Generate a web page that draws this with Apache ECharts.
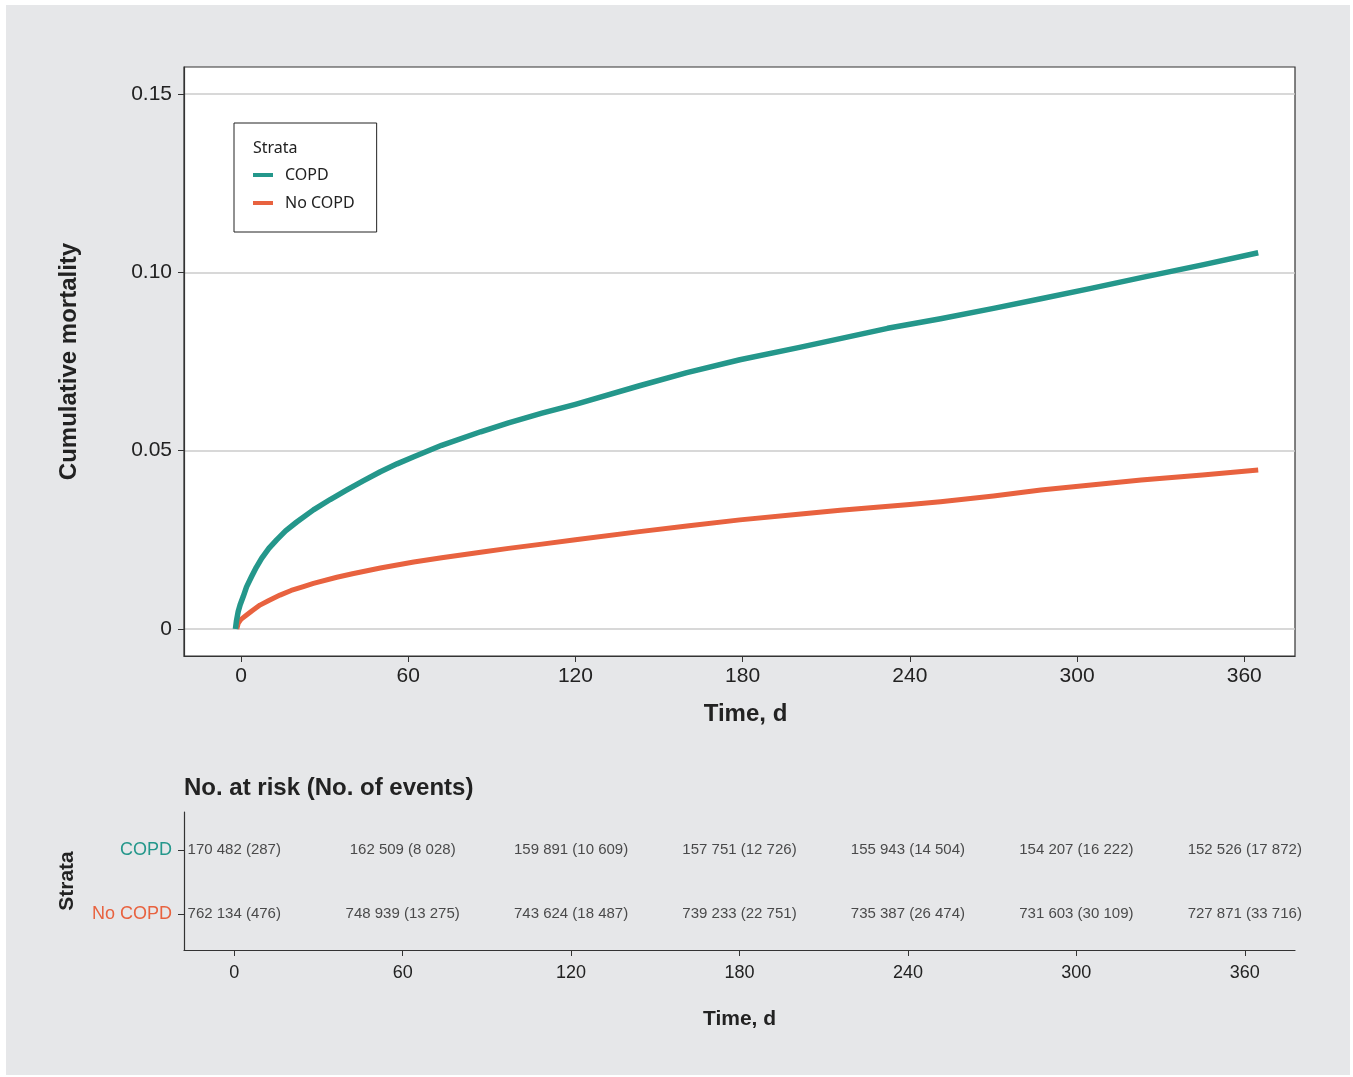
<!DOCTYPE html>
<html>
<head>
<meta charset="utf-8">
<script src="https://cdn.jsdelivr.net/npm/echarts@6/dist/echarts.min.js"></script>
<style>
html,body{margin:0;padding:0;background:#ffffff;}
#panel{position:absolute;left:6px;top:5px;width:1344px;height:1070px;background:#e6e7e9;}
#chart{position:absolute;left:0;top:0;width:1353px;height:1077px;}
</style>
</head>
<body>
<div id="panel"></div>
<div id="chart"></div>
<script>
// ---- Data ----
const xTicks = [0, 60, 120, 180, 240, 300, 360];
const yTicks = [0, 0.05, 0.10, 0.15];

const copdDays = [-2, -1.6, -1, -0.3, 0.8, 2, 3.8, 5.5, 7.4, 10, 12.8, 16, 20, 26, 32, 38, 44, 50, 56, 62, 72, 86, 96, 108, 120, 143, 160, 179, 200, 215, 232, 251, 270, 287, 305, 323, 345, 365];
const copdMort = [0, 0.0024, 0.0049, 0.0068, 0.0091, 0.0118, 0.0147, 0.0173, 0.0198, 0.0226, 0.0250, 0.0275, 0.0300, 0.0334, 0.0363, 0.0390, 0.0416, 0.0441, 0.0463, 0.0483, 0.0515, 0.0553, 0.0578, 0.0605, 0.0630, 0.0682, 0.0719, 0.0755, 0.0789, 0.0814, 0.0843, 0.0870, 0.0899, 0.0926, 0.0955, 0.0985, 0.1021, 0.1055];

const noCopdDays = [-1.5, -1, 0, 2, 4, 6.8, 10, 14, 18, 22.4, 26, 34.4, 40, 50, 62, 72, 86, 96, 108, 120, 143, 160, 179, 200, 215, 240, 251, 270, 287, 305, 323, 345, 365];
const noCopdMort = [0, 0.0016, 0.0027, 0.0039, 0.0051, 0.0067, 0.0080, 0.0095, 0.0108, 0.0119, 0.0128, 0.0145, 0.0155, 0.0171, 0.0188, 0.0200, 0.0215, 0.0226, 0.0238, 0.0250, 0.0273, 0.0289, 0.0306, 0.0322, 0.0333, 0.0349, 0.0357, 0.0373, 0.0390, 0.0404, 0.0418, 0.0432, 0.0446];

const strata = ['No COPD', 'COPD'];
const riskDays = [0, 60, 120, 180, 240, 300, 360];
const riskCOPD = ['170 482 (287)', '162 509 (8 028)', '159 891 (10 609)', '157 751 (12 726)', '155 943 (14 504)', '154 207 (16 222)', '152 526 (17 872)'];
const riskNoCOPD = ['762 134 (476)', '748 939 (13 275)', '743 624 (18 487)', '739 233 (22 751)', '735 387 (26 474)', '731 603 (30 109)', '727 871 (33 716)'];

// ---- Styles ----
const TEAL = '#24978b';
const ORANGE = '#e8623f';
const TXT = '#222222';
const AX = '#333333';
const FONT = '"Liberation Sans", Arial, Helvetica, sans-serif';

const zip = (a, b) => a.map((v, i) => [v, b[i]]);

const chart = echarts.init(document.getElementById('chart'), null, {renderer: 'canvas'});

const option = {
  backgroundColor: 'transparent',
  animation: false,
  textStyle: {fontFamily: FONT},
  title: {
    text: 'No. at risk (No. of events)',
    left: 179, top: 771,
    textStyle: {fontFamily: FONT, fontSize: 24, fontWeight: 'bold', color: TXT}
  },
  legend: {
    data: ['COPD', 'No COPD'],
    orient: 'vertical',
    left: 234, top: 123,
    padding: [44, 22, 21, 19],
    itemGap: 12,
    itemWidth: 20, itemHeight: 4,
    icon: 'rect',
    backgroundColor: '#ffffff',
    borderColor: '#222222', borderWidth: 1, borderRadius: 0,
    textStyle: {fontFamily: '"Noto Sans", "Open Sans", sans-serif', fontSize: 16, color: TXT, padding: [0, 0, 0, 7]}
  },
  graphic: [{
    type: 'text', left: 253, top: 140, z: 100,
    style: {text: 'Strata', font: '16px "Noto Sans", "Open Sans", sans-serif', fill: TXT}
  }],
  grid: [
    {left: 184, top: 67, width: 1111, height: 589, show: true, backgroundColor: '#ffffff', borderColor: AX, borderWidth: 1.2},
    {left: 184, top: 812, width: 1111, height: 138, show: false}
  ],
  xAxis: [
    {
      type: 'value', gridIndex: 0, min: -20.45, max: 378.2,
      name: 'Time, d', nameLocation: 'middle', nameGap: 46,
      nameTextStyle: {fontFamily: FONT, fontSize: 24, fontWeight: 'bold', color: TXT, padding: [0, 0, 0, 12]},
      axisLine: {show: true, onZero: false, lineStyle: {color: AX, width: 1.2}},
      axisTick: {show: true, length: 6, customValues: xTicks, lineStyle: {color: AX}},
      axisLabel: {customValues: xTicks, fontSize: 21, color: TXT, margin: 10, fontFamily: FONT},
      splitLine: {show: false}
    },
    {
      type: 'value', gridIndex: 1, min: -17.9, max: 377.9,
      name: 'Time, d', nameLocation: 'middle', nameGap: 59,
      nameTextStyle: {fontFamily: FONT, fontSize: 21, fontWeight: 'bold', color: TXT},
      axisLine: {show: true, onZero: false, lineStyle: {color: AX, width: 1.2}},
      axisTick: {show: true, length: 6, customValues: xTicks, lineStyle: {color: AX}},
      axisLabel: {customValues: xTicks, fontSize: 18, color: TXT, margin: 14, fontFamily: FONT},
      splitLine: {show: false}
    }
  ],
  yAxis: [
    {
      type: 'value', gridIndex: 0, min: -0.00757, max: 0.15757,
      name: 'Cumulative mortality', nameLocation: 'middle', nameGap: 103,
      nameTextStyle: {fontFamily: FONT, fontSize: 24, fontWeight: 'bold', color: TXT},
      axisLine: {show: true, onZero: false, lineStyle: {color: AX, width: 1.2}},
      axisTick: {show: true, length: 6, customValues: yTicks, lineStyle: {color: AX}},
      axisLabel: {
        customValues: yTicks, fontSize: 21, color: TXT, margin: 12, fontFamily: FONT,
        formatter: v => (Math.abs(v) < 1e-9 ? '0' : v.toFixed(2))
      },
      splitLine: {show: true, lineStyle: {color: '#cbcbcb', width: 1.6}}
    },
    {
      type: 'value', gridIndex: 1, min: -0.558, max: 1.598,
      name: 'Strata', nameLocation: 'middle', nameGap: 106,
      nameTextStyle: {fontFamily: FONT, fontSize: 21, fontWeight: 'bold', color: TXT},
      axisLine: {show: true, onZero: false, lineStyle: {color: AX, width: 1.2}},
      axisTick: {show: true, length: 6, customValues: [0, 1], lineStyle: {color: AX}},
      axisLabel: {
        customValues: [0, 1], fontSize: 18, margin: 12, fontFamily: FONT,
        formatter: v => strata[Math.round(v)],
        color: v => (Math.round(Number(v)) === 1 ? TEAL : ORANGE)
      },
      splitLine: {show: false}
    }
  ],
  series: [
    {
      name: 'No COPD', type: 'line', xAxisIndex: 0, yAxisIndex: 0,
      data: zip(noCopdDays, noCopdMort), showSymbol: false, z: 2,
      lineStyle: {color: ORANGE, width: 5, join: 'round'}, itemStyle: {color: ORANGE}
    },
    {
      name: 'COPD', type: 'line', xAxisIndex: 0, yAxisIndex: 0,
      data: zip(copdDays, copdMort), showSymbol: false, z: 3,
      lineStyle: {color: TEAL, width: 5.5, join: 'round'}, itemStyle: {color: TEAL}
    },
    {
      name: 'riskCOPD', type: 'scatter', xAxisIndex: 1, yAxisIndex: 1, silent: true,
      symbolSize: 1, itemStyle: {color: 'transparent'},
      data: riskDays.map((d, i) => ({value: [d, 1], label: {formatter: riskCOPD[i]}})),
      label: {show: true, position: 'inside', fontSize: 15, color: TXT, fontFamily: FONT}
    },
    {
      name: 'riskNoCOPD', type: 'scatter', xAxisIndex: 1, yAxisIndex: 1, silent: true,
      symbolSize: 1, itemStyle: {color: 'transparent'},
      data: riskDays.map((d, i) => ({value: [d, 0], label: {formatter: riskNoCOPD[i]}})),
      label: {show: true, position: 'inside', fontSize: 15, color: TXT, fontFamily: FONT}
    }
  ]
};
chart.setOption(option);
</script>
</body>
</html>
